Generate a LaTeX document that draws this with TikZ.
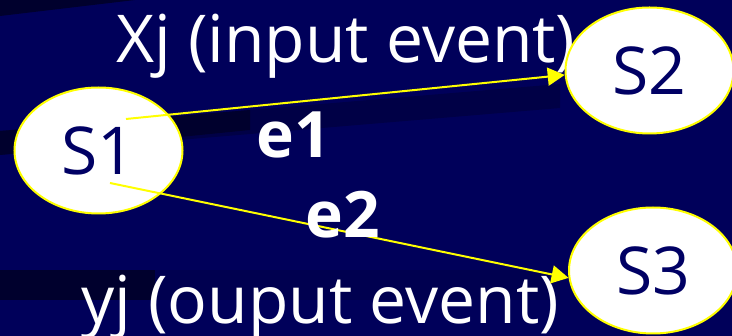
\documentclass[tikz,border=0pt]{standalone}
\usepackage{fontspec}
\setmainfont{Open Sans}
\usetikzlibrary{shapes.geometric,arrows.meta}
\definecolor{bgnavy}{RGB}{0,0,90}
\definecolor{stripedark}{RGB}{0,0,45}
\definecolor{stripemid}{RGB}{0,0,70}
\definecolor{stripefaint}{RGB}{0,0,80}
\definecolor{statetext}{RGB}{0,0,100}
\definecolor{edgeyellow}{RGB}{255,255,0}
\begin{document}
\begin{tikzpicture}[x=1pt,y=-1pt,
  state/.style={ellipse,draw=edgeyellow,line width=2pt,fill=white,
    minimum width=168pt,minimum height=126pt,inner sep=0pt,
    text=statetext,font=\fontsize{66}{66}\selectfont},
  evlabel/.style={text=white,font=\fontsize{66}{66}\selectfont,
    inner sep=0pt,anchor=base west},
  edgelabel/.style={text=white,font=\bfseries\fontsize{64}{64}\selectfont,
    inner sep=0pt,anchor=base west},
  trans/.style={draw=edgeyellow,line width=2pt,
    -{Triangle[length=17pt,width=18pt]}}]
\useasboundingbox (0,0) rectangle (732,336);
% background
\fill[bgnavy] (0,0) rectangle (732,336);
\fill[stripedark] (0,0) -- (135,0) -- (0,16) -- cycle;
\fill[stripemid] (0,131) -- (560,84) -- (560,108) -- (0,155) -- cycle;
\fill[stripedark] (0,131) -- (250,110) -- (250,130) -- (0,155) -- cycle;
\fill[stripefaint] (0,270) rectangle (560,300);
\fill[stripedark] (0,270) rectangle (155,300);
% event texts
\node[evlabel] (xin) at (116,63) {Xj (input event)};
\node[evlabel] (yout) at (81,324) {yj (ouput event)};
% states
\node[state] (S1) at (98.5,150.5) {S1};
\node[state] (S2) at (649.5,70.5) {S2};
\node[state] (S3) at (653,270.5) {S3};
% transitions
\coordinate (a1) at (126,119);
\coordinate (a2) at (110,183);
\draw[trans] (a1) -- (S2.183);
\draw[trans] (a2) -- (S3.185);
% edge labels
\node[edgelabel] (e1) at (256,158) {e1};
\node[edgelabel] (e2) at (305,238) {e2};
\end{tikzpicture}
\end{document}
